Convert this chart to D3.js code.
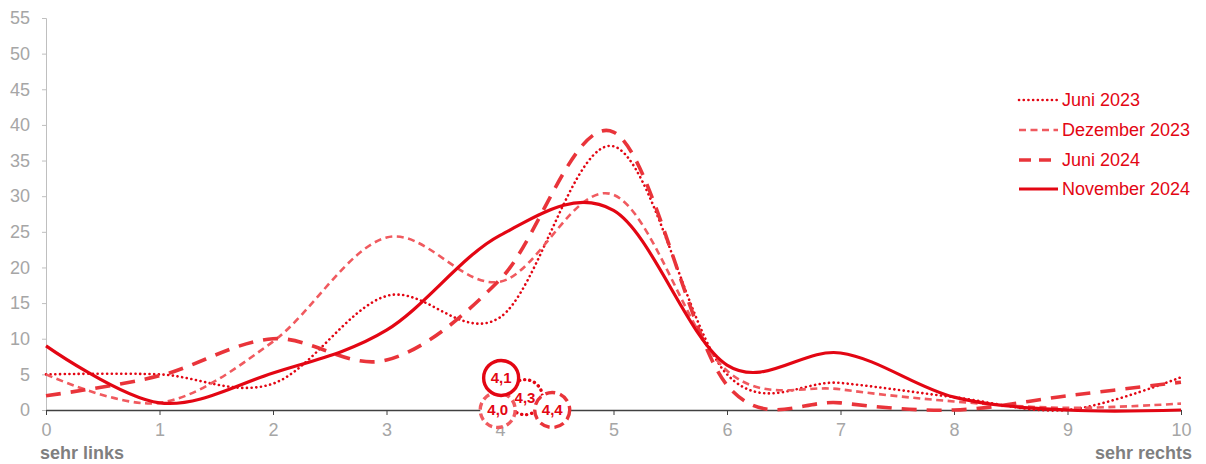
<!DOCTYPE html>
<html><head><meta charset="utf-8">
<script src="https://cdn.jsdelivr.net/npm/d3@7"></script>
<style>body{margin:0;background:#fff}svg{display:block;font-family:"Liberation Sans",Arial,sans-serif}</style>
</head><body>
<svg id="c" width="1206" height="464"></svg>
<script>
const categories = [0,1,2,3,4,5,6,7,8,9,10];
const xTickLabels = ["0","1","2","3","4","5","6","7","8","9","10"];
const yTicks = [0,5,10,15,20,25,30,35,40,45,50,55];
const seriesNames = ["Juni 2023","Dezember 2023","Juni 2024","November 2024"];
const juni2023 = [5,5,3.7,16,13,37,5,3.8,1.8,0,4.6];
const dezember2023 = [5,1,9.6,24.2,18,30.2,5.5,2.9,1.2,0.3,0.9];
const juni2024 = [2,4.8,10,7,18.3,39,3.5,1,0,2,3.9];
const november2024 = [9,1,5.2,11.2,24.5,28,6.3,8,1.8,0,0];
const meanLabels = ["4,3","4,0","4,4","4,1"];
const meanX = [4.22,3.98,4.46,4.01];
const meanY = [1.8,0,0,4.5];
const seriesValues = [juni2023, dezember2023, juni2024, november2024];

const colors = ["#e30613","#f05a5f","#e9343a","#e30613"];
const widths = [2.6,2.6,3.6,3.2];
const dashes = ["0.1,4.6","7,4.5","15,10",null];
const caps = ["round","butt","butt","butt"];

const svg = d3.select("#c");
const x = d3.scaleLinear().domain([0,10]).range([46,1181]);
const y = d3.scaleLinear().domain([0,55]).range([410,18]);

// y axis
const ya = svg.append("g").attr("transform","translate(46,0)")
  .call(d3.axisLeft(y).tickValues(yTicks).tickSize(4).tickPadding(12));
ya.select(".domain").attr("stroke","#bfbfbf");
ya.selectAll(".tick line").attr("stroke","#bfbfbf");
ya.selectAll(".tick text").attr("fill","#a6a6a6").attr("font-size",18).attr("font-family","Liberation Sans, Arial, sans-serif");

// x axis
const xa = svg.append("g").attr("transform","translate(0,410)")
  .call(d3.axisBottom(x).tickValues(categories).tickFormat((d,i)=>xTickLabels[i]).tickSize(5).tickPadding(8).tickSizeOuter(0));
xa.select(".domain").attr("stroke","#404040").attr("stroke-width",1.3);
xa.selectAll(".tick line").attr("stroke","#404040");
xa.selectAll(".tick text").attr("fill","#a6a6a6").attr("font-size",18).attr("font-family","Liberation Sans, Arial, sans-serif");

svg.append("text").attr("x",40).attr("y",459).attr("fill","#7f7f7f").attr("font-weight","bold").attr("font-size",18).text("sehr links");
svg.append("text").attr("x",1192).attr("y",459).attr("text-anchor","end").attr("fill","#7f7f7f").attr("font-weight","bold").attr("font-size",18).text("sehr rechts");

const line = d3.line().x((d,i)=>x(categories[i])).y(d=>y(d)).curve(d3.curveCatmullRom.alpha(0));
seriesValues.forEach((vals,k)=>{
  const p = svg.append("path").attr("d",line(vals)).attr("fill","none")
    .attr("stroke",colors[k]).attr("stroke-width",widths[k]).attr("stroke-linecap",caps[k]).attr("stroke-linejoin","round");
  if(dashes[k]) p.attr("stroke-dasharray",dashes[k]);
});

// mean markers (order: dotted, dez, juni24, nov)
meanLabels.forEach((lab,i)=>{
  const k = i;
  const g = svg.append("g").attr("transform",`translate(${x(meanX[i])},${y(meanY[i])})`);
  const c = g.append("circle").attr("r",17.5).attr("fill","#fff").attr("stroke",colors[k])
    .attr("stroke-width",3.4).attr("stroke-linecap",caps[k]);
  if(k===0) c.attr("stroke-dasharray","0.1,5");
  if(k===1) c.attr("stroke-dasharray","7,4");
  if(k===2) c.attr("stroke-dasharray","10,5");
  g.append("text").attr("text-anchor","middle").attr("dy","0.36em").attr("fill","#e30613")
    .attr("font-weight","bold").attr("font-size",15).text(lab);
});

// legend
const lg = svg.append("g");
const ly = [100,130,160,189];
seriesNames.forEach((n,k)=>{
  const p = lg.append("line").attr("x1",1019).attr("x2",1058).attr("y1",ly[k]).attr("y2",ly[k])
    .attr("stroke",colors[k]).attr("stroke-width",widths[k]).attr("stroke-linecap",caps[k]);
  if(dashes[k]) p.attr("stroke-dasharray", k===2 ? "12,8" : dashes[k]);
  lg.append("text").attr("x",1062).attr("y",ly[k]).attr("dy","0.35em").attr("fill","#e30613").attr("font-size",18).text(n);
});
</script>
</body></html>
